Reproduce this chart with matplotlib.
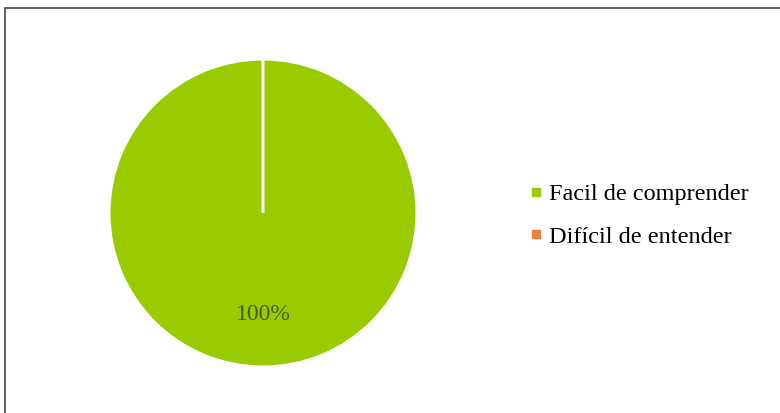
import matplotlib.pyplot as plt
from matplotlib.lines import Line2D
from matplotlib.patches import Rectangle

# data
labels = ['Facil de comprender', 'Difícil de entender']
values = [100, 0]
colors = ['#99CC00', '#F07F45']

plt.rcParams['font.family'] = ['Liberation Serif', 'DejaVu Serif']

fig = plt.figure(figsize=(7.8, 4.13), dpi=100)

# chart border (only top/left visible in the reference)
fig.patches.append(Rectangle((5 / 780, -0.1), 1.2, (413 - 8) / 413 + 0.1,
                             transform=fig.transFigure, fill=False,
                             edgecolor='#444444', linewidth=1.2))

ax = fig.add_axes([109 / 780, 46 / 413, 308 / 780, 308 / 413])
wedges, texts, autotexts = ax.pie(
    values, colors=colors, startangle=90, counterclock=False,
    autopct=lambda p: f'{p:.0f}%' if p > 1 else '', pctdistance=0.66,
    wedgeprops=dict(edgecolor='white', linewidth=2.2),
    textprops=dict(fontsize=17, color='#4A5A1E'))
ax.set_xlim(-1, 1)
ax.set_ylim(-1, 1)
ax.set_aspect('equal')

handles = [Line2D([], [], marker='s', linestyle='none', markersize=6,
                  markerfacecolor=c, markeredgecolor=c) for c in colors]
fig.legend(handles, labels, loc='upper left', bbox_to_anchor=(530 / 780, 1 - 183 / 413),
           frameon=False, fontsize=17.5, handlelength=0.5, handletextpad=0.3,
           labelspacing=0.85, borderaxespad=0, borderpad=0)

plt.savefig('out.png', dpi=100)
